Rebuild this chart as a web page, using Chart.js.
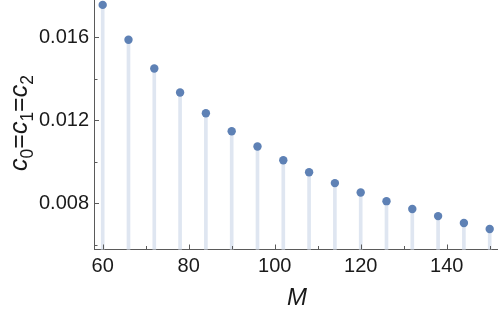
<!DOCTYPE html>
<html>
<head>
<meta charset="utf-8">
<script src="https://cdn.jsdelivr.net/npm/chart.js@4.4.0/dist/chart.umd.min.js"></script>
<style>
  html, body { margin: 0; padding: 0; background: #fff; }
  #wrap { width: 498px; height: 316px; position: relative; }
</style>
</head>
<body>
<div id="wrap"><canvas id="c"></canvas></div>
<script>
// ---- data ----
const mValues = [60, 66, 72, 78, 84, 90, 96, 102, 108, 114, 120, 126, 132, 138, 144, 150];
const cValues = [0.01756, 0.01588, 0.01450, 0.01334, 0.01234, 0.01148, 0.01074, 0.01008,
                 0.00950, 0.00898, 0.00853, 0.00811, 0.00773, 0.00739, 0.00706, 0.00677];
const xMajorTicks = [60, 80, 100, 120, 140];
const xMinorTicks = [70, 90, 110, 130, 150];
const yMajorTicks = [0.008, 0.012, 0.016];
const yMinorTicks = [0.006, 0.010, 0.014];
const xTitle = 'M';

const points = mValues.map((m, i) => ({ x: m, y: cValues[i] }));

const AXIS_COLOR = '#5a5a5a';
const TEXT_COLOR = '#1a1a1a';
const FONT = '"Liberation Sans", Arial, sans-serif';

const decorPlugin = {
  id: 'decor',
  afterDraw(chart) {
    const ctx = chart.ctx;
    const xs = chart.scales.x, ys = chart.scales.y;
    const a = chart.chartArea;
    ctx.save();
    ctx.strokeStyle = AXIS_COLOR;
    ctx.lineWidth = 1;
    const tickY = (v, len) => {
      const p = Math.round(ys.getPixelForValue(v)) + 0.5;
      ctx.beginPath(); ctx.moveTo(a.left, p); ctx.lineTo(a.left + len, p); ctx.stroke();
    };
    yMajorTicks.forEach(v => tickY(v, 5));
    yMinorTicks.forEach(v => tickY(v, 3.5));
    const tickX = (v, len) => {
      const p = Math.round(xs.getPixelForValue(v)) + 0.5;
      ctx.beginPath(); ctx.moveTo(p, a.bottom); ctx.lineTo(p, a.bottom - len); ctx.stroke();
    };
    xMajorTicks.forEach(v => tickX(v, 5));
    xMinorTicks.forEach(v => tickX(v, 3.5));

    ctx.fillStyle = TEXT_COLOR;
    ctx.font = 'italic 24px ' + FONT;
    ctx.textAlign = 'center';
    ctx.textBaseline = 'alphabetic';
    ctx.fillText(xTitle, 297, 305);

    const parts = [
      ['c', 'italic 25px ' + FONT, 0], ['0', '17.5px ' + FONT, 6],
      ['=', '25px ' + FONT, 0],
      ['c', 'italic 25px ' + FONT, 0], ['1', '17.5px ' + FONT, 6],
      ['=', '25px ' + FONT, 0],
      ['c', 'italic 25px ' + FONT, 0], ['2', '17.5px ' + FONT, 6]
    ];
    let total = 0;
    parts.forEach(p => { ctx.font = p[1]; total += ctx.measureText(p[0]).width; });
    ctx.translate(27, 123);
    ctx.rotate(-Math.PI / 2);
    ctx.textAlign = 'left';
    let xp = -total / 2;
    parts.forEach(p => {
      ctx.font = p[1];
      ctx.fillText(p[0], xp, p[2]);
      xp += ctx.measureText(p[0]).width;
    });
    ctx.restore();
  }
};

new Chart(document.getElementById('c'), {
  data: {
    datasets: [
      {
        type: 'scatter',
        data: points,
        backgroundColor: '#5e81b5',
        borderWidth: 0,
        pointRadius: 4.2,
        pointHoverRadius: 4.2,
        order: 0,
        clip: false
      },
      {
        type: 'bar',
        data: points,
        backgroundColor: '#dfe6f1',
        borderWidth: 0,
        barThickness: 3,
        order: 1
      }
    ]
  },
  options: {
    responsive: true,
    maintainAspectRatio: false,
    animation: false,
    events: [],
    layout: { padding: 0, autoPadding: false },
    plugins: { legend: { display: false }, tooltip: { enabled: false } },
    scales: {
      x: {
        type: 'linear',
        offset: false,
        min: 57.98,
        max: 151.93,
        grid: { display: false, drawTicks: false },
        border: { display: true, color: AXIS_COLOR, width: 1 },
        afterBuildTicks: s => { s.ticks = xMajorTicks.map(v => ({ value: v })); },
        afterFit: s => { s.height = 66.5; s.paddingLeft = 0; s.paddingRight = 0; s.paddingTop = 0; s.paddingBottom = 0; },
        ticks: {
          autoSkip: false,
          maxRotation: 0,
          padding: 5,
          color: TEXT_COLOR,
          font: { family: FONT, size: 20 },
          callback: v => String(v)
        }
      },
      y: {
        type: 'linear',
        min: 0.005783,
        max: 0.017796,
        grid: { display: false, drawTicks: false },
        border: { display: true, color: AXIS_COLOR, width: 1 },
        afterBuildTicks: s => { s.ticks = yMajorTicks.map(v => ({ value: v })); },
        afterFit: s => { s.width = 94; s.paddingLeft = 0; s.paddingRight = 0; s.paddingTop = 0; s.paddingBottom = 0; },
        ticks: {
          autoSkip: false,
          padding: 5,
          color: TEXT_COLOR,
          font: { family: FONT, size: 20 },
          callback: v => Number(v).toFixed(3)
        }
      }
    }
  },
  plugins: [decorPlugin]
});
</script>
</body>
</html>
